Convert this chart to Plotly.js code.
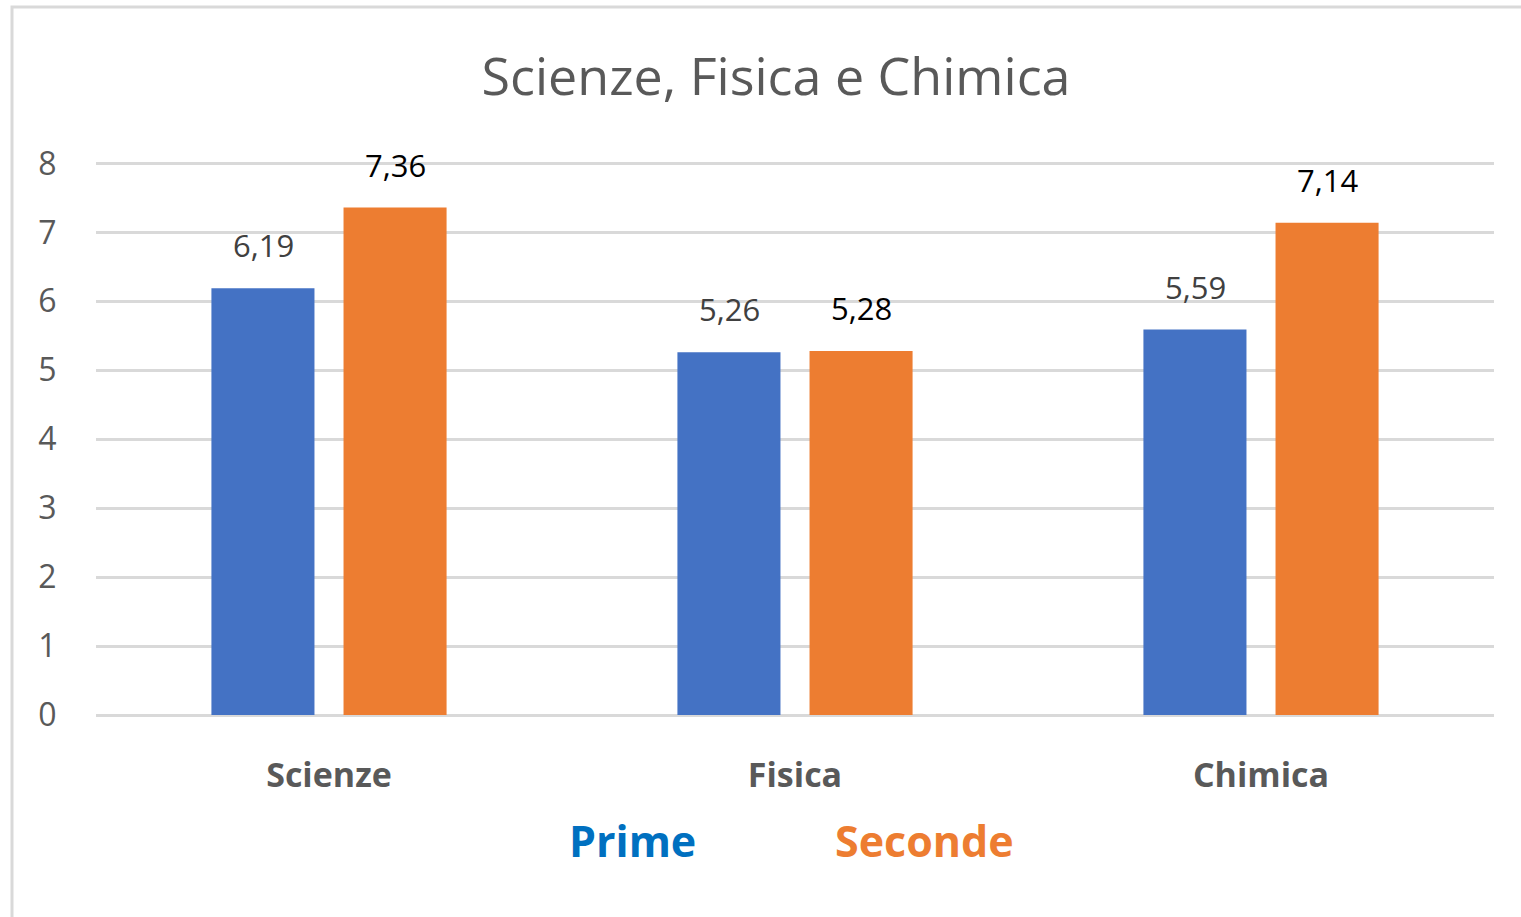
<!DOCTYPE html>
<html>
<head>
<meta charset="utf-8">
<script src="https://cdn.plot.ly/plotly-3.0.1.min.js"></script>
<style>html,body{margin:0;padding:0;background:#fff;}#chart{width:1521px;height:917px;}</style>
</head>
<body>
<div id="chart"></div>
<script>
const categories = ["Scienze", "Fisica", "Chimica"];
const seriesNames = ["Prime", "Seconde"];
const prime = [6.19, 5.26, 5.59];
const seconde = [7.36, 5.28, 7.14];
const yTicks = [0, 1, 2, 3, 4, 5, 6, 7, 8];

const FONT = "Open Sans, Lato, sans-serif";
const colors = ["#4472C4", "#ED7D31"];
const labelColors = ["#404040", "#000000"];
const legendColors = ["#0070C0", "#ED7D31"];

const traces = [prime, seconde].map((vals, i) => ({
  type: "bar",
  name: seriesNames[i],
  x: categories,
  y: vals,
  marker: {color: colors[i]},
  showlegend: false,
  hoverinfo: "x+y"
}));

const annotations = [];
[prime, seconde].forEach((vals, i) => {
  vals.forEach((v, j) => {
    annotations.push({
      x: categories[j], y: v, xref: "x", yref: "y",
      text: v.toFixed(2).replace(".", ","),
      showarrow: false,
      xshift: i === 0 ? -66 : 66,
      yshift: 43,
      font: {family: FONT, size: 31, color: labelColors[i]}
    });
  });
});
// legend as coloured text
seriesNames.forEach((n, i) => {
  annotations.push({
    xref: "paper", yref: "paper",
    x: i === 0 ? (632 - 96) / 1398 : (925 - 96) / 1398,
    y: (715 - 840) / 553,
    text: "<b>" + n + "</b>",
    showarrow: false,
    xanchor: "center", yanchor: "middle",
    font: {family: FONT, size: 43, color: legendColors[i]}
  });
});

const layout = {
  width: 1521, height: 917,
  margin: {l: 96, r: 27, t: 162, b: 202},
  paper_bgcolor: "#ffffff",
  plot_bgcolor: "#ffffff",
  separators: ",.",
  title: {
    text: "Scienze, Fisica e Chimica",
    x: 776 / 1521, xanchor: "center",
    y: 1 - 77 / 917, yanchor: "middle",
    yref: "container", xref: "container",
    font: {family: FONT, size: 52, color: "#595959"}
  },
  barmode: "group",
  bargap: 0.433,
  bargroupgap: 0.22,
  xaxis: {
    showgrid: false, zeroline: false, showline: false,
    ticks: "outside", ticklen: 30, tickcolor: "rgba(0,0,0,0)",
    tickfont: {family: FONT, size: 34, color: "#595959", weight: "bold"},
    fixedrange: true
  },
  yaxis: {
    range: [0, 8.02],
    tickvals: yTicks,
    ticktext: yTicks.map(String),
    showgrid: true, gridcolor: "#D9D9D9", gridwidth: 3,
    zeroline: true, zerolinecolor: "#D9D9D9", zerolinewidth: 3,
    showline: false,
    ticks: "outside", ticklen: 32, tickcolor: "rgba(0,0,0,0)",
    tickfont: {family: FONT, size: 32, color: "#595959"},
    fixedrange: true
  },
  shapes: [{
    type: "rect", xref: "paper", yref: "paper",
    x0: (12 - 96) / 1398, x1: 1.2,
    y0: -0.6, y1: (715 - 7) / 553,
    line: {color: "#D9D9D9", width: 3},
    fillcolor: "rgba(0,0,0,0)", layer: "below"
  }],
  annotations: annotations
};

Plotly.newPlot("chart", traces, layout, {displayModeBar: false, staticPlot: false});
</script>
</body>
</html>
